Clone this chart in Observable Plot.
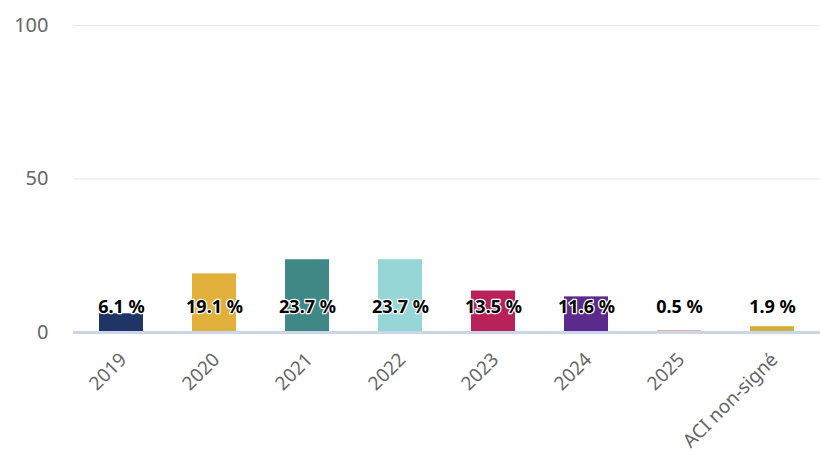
<!DOCTYPE html>
<html>
<head>
<meta charset="utf-8">
<script src="https://cdn.jsdelivr.net/npm/d3@7"></script>
<script src="https://cdn.jsdelivr.net/npm/@observablehq/plot@0.6"></script>
<style>
  html, body { margin: 0; padding: 0; background: #fff; }
  #chart svg { display: block; }
</style>
</head>
<body>
<div id="chart"></div>
<script>
const categories = ["2019", "2020", "2021", "2022", "2023", "2024", "2025", "ACI non-signé"];
const values = [6.1, 19.1, 23.7, 23.7, 13.5, 11.6, 0.5, 1.9];
const colors = ["#1f3566", "#e1b03a", "#3f8886", "#97d6d6", "#b8215a", "#5c2a8c", "#e8743b", "#d4ae3c"];
const yTicks = [0, 50, 100];

const data = categories.map((c, i) => ({ cat: c, value: values[i], color: colors[i] }));

const chart = Plot.plot({
  width: 820,
  height: 455,
  marginLeft: 73,
  marginRight: 0,
  marginTop: 25,
  marginBottom: 123,
  style: { fontFamily: "'Noto Sans', sans-serif", background: "#fff" },
  x: { domain: categories, paddingInner: 0.53, paddingOuter: 0.265, label: null },
  y: { domain: [0, 100], label: null },
  marks: [
    Plot.gridY(yTicks.filter(d => d > 0), { stroke: "#e6e6e6", strokeOpacity: 1, strokeWidth: 1 }),
    Plot.barY(data, { x: "cat", y: "value", fill: "color" }),
    Plot.ruleY([0], { stroke: "#ccd6eb", strokeWidth: 3 }),
    Plot.axisY(yTicks, { tickSize: 0, tickPadding: 25, fontSize: 20, fill: "#666", label: null }),
    Plot.axisX({ tickSize: 0, tickRotate: -45, tickPadding: 24, fontSize: 19, fill: "#666", label: null, dx: 2 }),
    Plot.text(data, {
      x: "cat", y: () => 0, dy: -25,
      text: d => d.value.toFixed(1) + " %",
      fontSize: 18, fontWeight: "bold", fill: "#000",
      stroke: "#fff", strokeWidth: 2.5, paintOrder: "stroke"
    })
  ]
});
document.getElementById("chart").appendChild(chart);
</script>
</body>
</html>
